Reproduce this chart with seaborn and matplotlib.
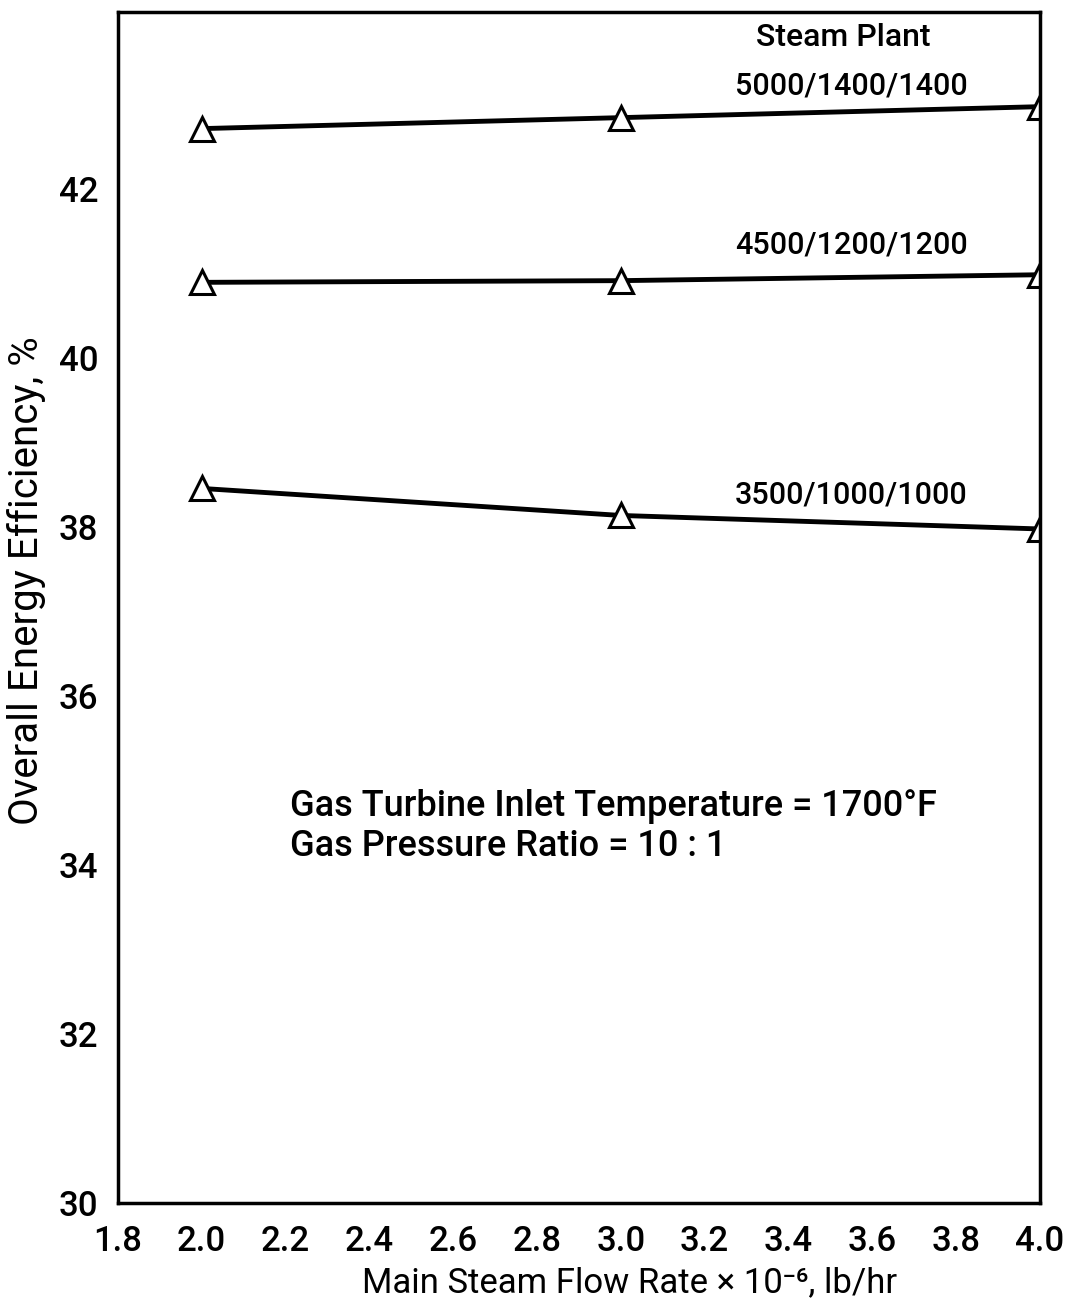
import matplotlib
matplotlib.use("Agg")
import matplotlib.pyplot as plt
import seaborn as sns
import pandas as pd

# Main steam flow rate (10^6 lb/hr)
flow = [2.0, 3.0, 4.0]

# Overall energy efficiency (%) for each steam plant condition
eff_5000 = [42.72, 42.85, 42.98]
eff_4500 = [40.90, 40.92, 40.99]
eff_3500 = [38.46, 38.14, 37.98]

series_names = ["5000/1400/1400", "4500/1200/1200", "3500/1000/1000"]
series_values = [eff_5000, eff_4500, eff_3500]

x_ticks = [1.8, 2.0, 2.2, 2.4, 2.6, 2.8, 3.0, 3.2, 3.4, 3.6, 3.8, 4.0]
y_ticks = [30, 32, 34, 36, 38, 40, 42]

rows = []
for name, vals in zip(series_names, series_values):
    for f, v in zip(flow, vals):
        rows.append({"flow": f, "eff": v, "plant": name})
df = pd.DataFrame(rows)

sns.set_theme(style="white")
plt.rcParams["font.family"] = ["Roboto", "DejaVu Sans"]
plt.rcParams["font.weight"] = "medium"
plt.rcParams["text.color"] = "black"
plt.rcParams["axes.labelcolor"] = "black"

fig = plt.figure(figsize=(10.8, 13.11), dpi=100)
ax = fig.add_axes([0.109, 0.0824, 0.854, 0.9084])

for name in series_names:
    sub = df[df["plant"] == name]
    sns.lineplot(data=sub, x="flow", y="eff", ax=ax, color="black",
                 linewidth=3.5, marker="^", markersize=17,
                 markerfacecolor="white", markeredgecolor="black",
                 markeredgewidth=2.2, legend=False)

ax.set_xlim(1.8, 4.0)
ax.set_ylim(30, 44.1)
ax.set_xticks(x_ticks)
ax.set_xticklabels([f"{t:.1f}" for t in x_ticks], fontsize=25)
ax.set_yticks(y_ticks)
ax.set_yticklabels([str(t) for t in y_ticks], fontsize=25)
ax.tick_params(axis="both", direction="in", length=4, width=1.2,
               colors="black", labelcolor="black")
ax.tick_params(axis="x", pad=16)
ax.tick_params(axis="y", pad=14)

for side in ax.spines.values():
    side.set_color("black")
    side.set_linewidth(2.5)

ax.set_xlabel("Main Steam Flow Rate × 10⁻⁶, lb/hr", fontsize=25, color="black")
ax.set_ylabel("Overall Energy Efficiency, %", fontsize=29, color="black")
ax.xaxis.set_label_coords(0.555, -0.053)
ax.yaxis.set_label_coords(-0.078, 0.523)

# Curve labels
ax.text(3.53, 43.80, "Steam Plant", fontsize=23, ha="center", va="center")
label_pos = [(3.55, 43.23), (3.55, 41.34), (3.55, 38.38)]
for name, (lx, ly) in zip(series_names, label_pos):
    ax.text(lx, ly, name, fontsize=22, ha="center", va="center")

ax.text(2.21, 34.70, "Gas Turbine Inlet Temperature = 1700°F", fontsize=26, ha="left", va="center")
ax.text(2.21, 34.22, "Gas Pressure Ratio = 10 : 1", fontsize=26, ha="left", va="center")

fig.savefig("out.png", dpi=100)
